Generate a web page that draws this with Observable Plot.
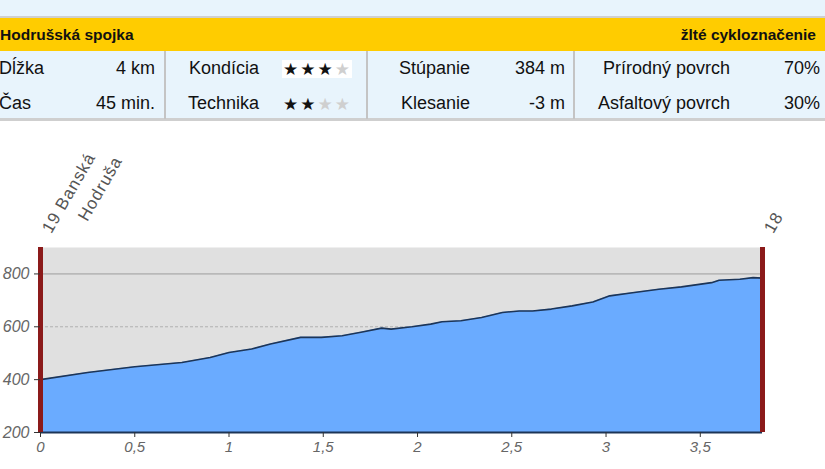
<!DOCTYPE html>
<html>
<head>
<meta charset="utf-8">
<script src="https://cdn.jsdelivr.net/npm/d3@7"></script>
<script src="https://cdn.jsdelivr.net/npm/@observablehq/plot@0.6"></script>
<style>
  html, body { margin: 0; padding: 0; background: #fff; width: 825px; height: 469px; overflow: hidden; }
  body { font-family: "Liberation Sans", Arial, sans-serif; position: relative; }
  #top { position: absolute; left: 0; top: 0; width: 825px; height: 16px; background: #e8f4fc; }
  #info { position: absolute; left: 0; top: 16px; width: 825px; height: 105px; background: #e8f4fc;
          border-top: 2px solid #cfcfcf; border-bottom: 3px solid #cfcfcf; box-sizing: border-box; }
  #band { position: absolute; left: 0; top: 0; width: 825px; height: 33px; background: #ffcc00; }
  .hdr { position: absolute; top: 8px; font-weight: bold; font-size: 15.5px; color: #111; white-space: nowrap; }
  .cell { position: absolute; font-size: 18px; color: #111; white-space: nowrap; line-height: 20px; }
  .sep { position: absolute; top: 33px; width: 2px; height: 68px; background: #c4c4c4; }
  .stars { position: absolute; font-family: "DejaVu Sans", sans-serif; font-size: 17px; letter-spacing: 2px; line-height: 18px; }
  .on { color: #111; } .off { color: #cfcfcf; }
  #chart { position: absolute; left: 0; top: 120px; }
  #chart g[aria-label="x-axis tick label"] text, #chart g[aria-label="y-axis tick label"] text { font-style: italic; }
  #chart .rot text { letter-spacing: 1px; }
</style>
</head>
<body>
<div id="top"></div>
<div id="info">
  <div id="band"></div>
</div>
<div id="chart"></div>
<script>
// ---- data ----
const routeName = "Hodrušská spojka";
const marking = "žlté cykloznačenie";
const rowLabels1 = ["Dĺžka", "Čas"];
const rowValues1 = ["4 km", "45 min."];
const rowLabels2 = ["Kondícia", "Technika"];
const rowStars2 = [3, 2];
const rowLabels3 = ["Stúpanie", "Klesanie"];
const rowValues3 = ["384 m", "-3 m"];
const rowLabels4 = ["Prírodný povrch", "Asfaltový povrch"];
const rowValues4 = ["70%", "30%"];

const distKm = [0, 0.25, 0.5, 0.75, 0.9, 1.0, 1.12, 1.22, 1.38, 1.49, 1.6, 1.7, 1.81, 1.86, 1.97, 2.07, 2.13, 2.23, 2.34, 2.45, 2.54, 2.61, 2.71, 2.82, 2.93, 3.02, 3.14, 3.28, 3.40, 3.56, 3.60, 3.71, 3.78, 3.83];
const elevM  = [400, 427, 449, 465, 484, 503, 516, 535, 560, 560, 566, 579, 595, 591, 600, 610, 619, 623, 635, 654, 660, 660, 667, 679, 694, 717, 729, 742, 751, 767, 776, 780, 786, 784];
const xTicks = [0, 0.5, 1, 1.5, 2, 2.5, 3, 3.5];
const yTicks = [200, 400, 600, 800];
const endpoints = [0, 3.83];
const startLabel1 = "19 Banská";
const startLabel2 = "Hodruša";
const endLabel = "18";

// ---- info table ----
const info = document.getElementById("info");
function add(cls, text, style) {
  const d = document.createElement("div");
  d.className = cls; d.textContent = text;
  Object.assign(d.style, style);
  info.appendChild(d);
  return d;
}
add("hdr", routeName, {left: "0px"});
add("hdr", marking, {right: "9px"});
const rowTops = [40, 75];
for (let i = 0; i < 2; i++) {
  const t = rowTops[i] + "px";
  add("cell", rowLabels1[i], {left: "-1px", top: t});
  add("cell", rowValues1[i], {right: (825 - 155) + "px", top: t});
  add("cell", rowLabels2[i], {right: (825 - 259) + "px", top: t});
  const s = document.createElement("div");
  s.className = "stars";
  Object.assign(s.style, {left: "282px", top: (rowTops[i] + 2) + "px", background: i === 0 ? "#fff" : "transparent", paddingLeft: "1px"});
  for (let k = 0; k < 4; k++) {
    const sp = document.createElement("span");
    sp.className = k < rowStars2[i] ? "on" : "off";
    sp.textContent = "★";
    s.appendChild(sp);
  }
  info.appendChild(s);
  add("cell", rowLabels3[i], {right: (825 - 470) + "px", top: t});
  add("cell", rowValues3[i], {right: (825 - 565) + "px", top: t});
  add("cell", rowLabels4[i], {right: (825 - 730) + "px", top: t});
  add("cell", rowValues4[i], {right: (825 - 820) + "px", top: t});
}
[164, 366, 573].forEach(x => { const d = document.createElement("div"); d.className = "sep"; d.style.left = x + "px"; info.appendChild(d); });

// ---- chart ----
const profile = distKm.map((km, i) => ({km, elev: elevM[i]}));
const fmt = d => String(d).replace(".", ",");

const chart = Plot.plot({
  width: 825,
  height: 349,
  marginLeft: 40,
  marginRight: 63,
  marginTop: 127,
  marginBottom: 37,
  style: {fontFamily: "'Liberation Sans', Arial, sans-serif", color: "#666", background: "transparent", overflow: "visible"},
  x: {domain: [0, 3.83], ticks: xTicks, tickFormat: fmt, label: null},
  y: {domain: [200, 900], ticks: yTicks, label: null},
  marks: [
    Plot.frame({fill: "#e0e0e0", stroke: null}),
    Plot.ruleY([800], {stroke: "#9c9c9c", strokeWidth: 1}),
    Plot.ruleY([600], {stroke: "#b0b0b0", strokeWidth: 1, strokeDasharray: "3,2"}),
    Plot.areaY(profile, {x: "km", y1: 200, y2: "elev", fill: "#6aabff", curve: "linear"}),
    Plot.lineY(profile, {x: "km", y: "elev", stroke: "#1d3557", strokeWidth: 1.6}),
    Plot.ruleY([200], {stroke: "#1d3557", strokeWidth: 2}),
    Plot.ruleX(endpoints, {y1: 200, y2: 900, stroke: "#8b1a1a", strokeWidth: 5}),
    Plot.axisX({ticks: xTicks, tickFormat: fmt, tickSize: 5, tickPadding: 4, fontSize: 15, fontStyle: "italic", stroke: "#333", label: null}),
    Plot.axisY({ticks: yTicks, tickSize: 6, tickPadding: 5, fontSize: 16, fontStyle: "italic", stroke: "#333", label: null}),
    Plot.text([startLabel1], {x: 0, y: 900, dx: 6, dy: -16, rotate: -60, textAnchor: "start", fontSize: 17, fill: "#555", className: "rot"}),
    Plot.text([startLabel2], {x: 0, y: 900, dx: 42, dy: -28, rotate: -60, textAnchor: "start", fontSize: 17, fill: "#555", className: "rot"}),
    Plot.text([endLabel], {x: 3.83, y: 900, dx: 6, dy: -16, rotate: -60, textAnchor: "start", fontSize: 17, fill: "#555", className: "rot"})
  ]
});
document.getElementById("chart").appendChild(chart);
</script>
</body>
</html>
